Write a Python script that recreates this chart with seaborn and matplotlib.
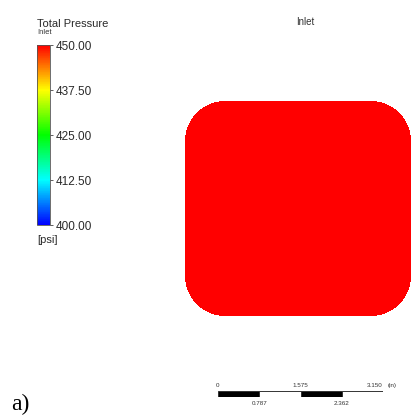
import numpy as np
import pandas as pd
import matplotlib
matplotlib.use("Agg")
import matplotlib.pyplot as plt
from matplotlib.colors import LinearSegmentedColormap
import seaborn as sns

# ---- data ----
pressure_value = 450.0            # uniform inlet total pressure [psi]
cbar_min, cbar_max = 400.0, 450.0
cbar_ticks = [400.0, 412.5, 425.0, 437.5, 450.0]
scale_marks = [0.0, 0.787, 1.575, 2.362, 3.150]   # scale bar (in)
title = "Inlet"
legend_title = "Total Pressure"
legend_sub = "Inlet"
unit = "[psi]"
panel_label = "a)"

sns.set_style("white")
plt.rcParams['font.family'] = ['Liberation Sans', 'DejaVu Sans']

W, H = 417, 419
fig = plt.figure(figsize=(W / 100, H / 100), dpi=100)

def fax(x0, y0, x1, y1):
    return fig.add_axes([x0 / W, 1 - y1 / H, (x1 - x0) / W, (y1 - y0) / H])

cmap = LinearSegmentedColormap.from_list(
    "ansys", ["#0000ff", "#00ffff", "#00ff00", "#ffff00", "#ff0000"])

# field on the inlet face (rounded square)
ax = fax(185, 101, 411, 316)
cax = fax(37, 45, 50, 225)
nx, ny = 226, 215
field = np.full((ny, nx), pressure_value)
r = 40.0
xx, yy = np.meshgrid(np.arange(nx) + 0.5, np.arange(ny) + 0.5)
dx = np.clip(np.maximum(r - xx, xx - (nx - r)), 0, None)
dy = np.clip(np.maximum(r - yy, yy - (ny - r)), 0, None)
mask = dx ** 2 + dy ** 2 > r ** 2
sns.heatmap(pd.DataFrame(field), mask=mask, cmap=cmap, vmin=cbar_min, vmax=cbar_max,
            ax=ax, cbar_ax=cax, xticklabels=False, yticklabels=False,
            cbar_kws={"ticks": cbar_ticks, "format": "%.2f"}, rasterized=True)
ax.set_axis_off()

cax.tick_params(labelsize=8.5, colors="#444444", length=2, width=0.6, pad=2,
                labelcolor="#2a2a2a")
cb = ax.collections[0].colorbar
cb.outline.set_edgecolor("#555555")
cb.outline.set_linewidth(0.6)

fig.text(37 / W, 1 - 24 / H, legend_title, fontsize=8, color="#2a2a2a", va="center")
fig.text(37 / W, 1 - 33 / H, legend_sub, fontsize=5.5, color="#333333", va="center")
fig.text(37 / W, 1 - 240 / H, unit, fontsize=8, color="#2a2a2a", va="center")
fig.text(305 / W, 1 - 22 / H, title, fontsize=7, color="#333333", va="center", ha="center")

# scale bar
sax = fax(218, 391, 383, 397)
for i in range(len(scale_marks) - 1):
    sax.barh(0, scale_marks[i + 1] - scale_marks[i], left=scale_marks[i], height=1,
             color="black" if i % 2 == 0 else "white", edgecolor="#333333", linewidth=0.7)
sax.set_xlim(scale_marks[0], scale_marks[-1])
sax.set_ylim(-0.5, 0.5)
sax.set_axis_off()
n = len(scale_marks)
for i, v in enumerate(scale_marks):
    lab = f"{v:.3f}" if v else "0"
    if i % 2 == 0:
        ha = "right" if i == n - 1 else "center"
        sax.text(v, 1.5, lab, fontsize=4.5, color="#333333", ha=ha, va="center")
    else:
        sax.text(v, -1.5, lab, fontsize=4.5, color="#333333", ha="center", va="center")
sax.text(scale_marks[-1] + 0.09, 1.5, "(in)", fontsize=4.5, color="#333333",
         ha="left", va="center")

fig.text(11 / W, 1 - 404 / H, panel_label, fontsize=17, family="Liberation Serif",
         color="black", va="center")

fig.savefig("out.png", dpi=100)
